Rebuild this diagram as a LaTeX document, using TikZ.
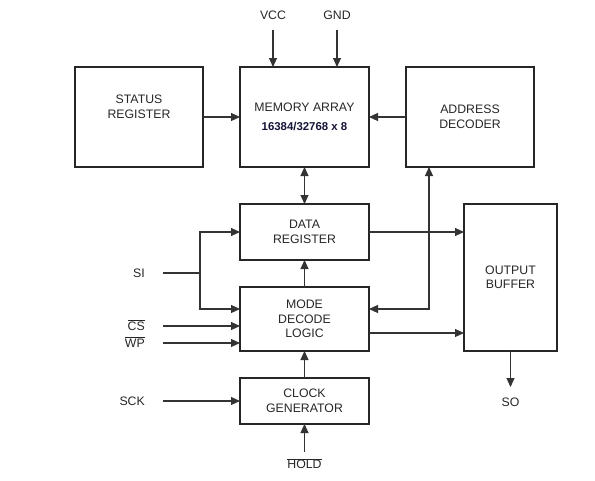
\documentclass[tikz,border=0pt]{standalone}
\usepackage{fontspec}
\usepackage{xcolor}
\usetikzlibrary{arrows.meta,positioning}
\newfontfamily\blockfont{Liberation Sans}
\definecolor{numblue}{RGB}{20,20,55}
\newcommand\lowact[1]{\vphantom{#1}\smash{$\overline{\mbox{#1}}$}}

\begin{document}
\begin{tikzpicture}[
    x=1pt, y=-1pt,
    >={Triangle[length=9pt,width=8pt]},
    box/.style={draw=black!85, line width=1.1pt, align=center, outer sep=0pt, text=black!85, font=\blockfont\fontsize{12.3}{14.5}\selectfont},
    sig/.style={inner sep=0pt, text=black!85, font=\blockfont\fontsize{12.3}{14.5}\selectfont},
    wire/.style={line width=1.1pt, draw=black!80},
    arrow/.style={->, wire}
]
\useasboundingbox (0,0) rectangle (595,480);

\node[box, minimum width=129pt, minimum height=100pt] (mem) at (304.5,117) {MEMORY ARRAY\\[4pt]{\bfseries\fontsize{11.4}{12}\selectfont\color{numblue}16384/32768 x 8}};
\node[box, minimum width=128pt, minimum height=100pt, left=37pt of mem] (status) {STATUS\\REGISTER\\[6pt]};
\node[box, minimum width=128pt, minimum height=100pt, right=37pt of mem] (dec) {ADDRESS\\DECODER};
\node[box, minimum width=129pt, minimum height=56pt, below=37pt of mem] (data) {DATA\\REGISTER};
\node[box, minimum width=129pt, minimum height=64pt, below=27pt of data] (mode) {MODE\\DECODE\\LOGIC};
\node[box, minimum width=129pt, minimum height=46pt, below=27pt of mode] (clk) {CLOCK\\GENERATOR};
\node[box, minimum width=93pt, minimum height=147pt, anchor=north west] (obuf) at ([xshift=95pt]data.north east) {OUTPUT\\BUFFER};

\node[sig, anchor=south, inner ysep=10pt] (vcc) at (273,30) {VCC};
\node[sig, anchor=south, inner ysep=10pt] (gnd) at (337,30) {GND};
\node[sig, anchor=east, inner xsep=18pt] (si) at (163,273) {SI};
\node[sig, anchor=east, inner xsep=18pt] (cs) at (163,326) {\lowact{CS}};
\node[sig, anchor=east, inner xsep=18pt] (wp) at (163,343) {\lowact{WP}};
\node[sig, anchor=east, inner xsep=18pt] (sck) at (163,401) {SCK};
\node[sig, anchor=north, inner ysep=8pt] (hold) at (304.5,452) {\lowact{HOLD}};
\node[sig, anchor=north, inner ysep=11pt] (so) at (510.5,387) {SO};
\coordinate (sibr) at (200,273);

\draw[arrow] (vcc.south) -- (vcc.south |- mem.north);
\draw[arrow] (gnd.south) -- (gnd.south |- mem.north);
\draw[arrow] (status) -- (mem);
\draw[arrow] (dec) -- (mem);
\draw[<->, wire] (mem) -- (data);
\draw[arrow] (mode) -- (data);
\draw[arrow] (clk) -- (mode);
\draw[arrow] (hold) -- (clk);
\draw[wire] (si.east) -- (sibr);
\draw[arrow] (sibr) |- (data.west);
\draw[arrow] (sibr) |- ([yshift=10pt]mode.west);
\draw[arrow] (cs.east) -- (cs.east -| mode.west);
\draw[arrow] (wp.east) -- (wp.east -| mode.west);
\draw[arrow] (sck) -- (clk);
\draw[arrow] (data.east) -- (data.east -| obuf.west);
\draw[arrow] ([yshift=-14pt]mode.east) -- ([yshift=-14pt]mode.east -| obuf.west);
\draw[<->, wire] ([yshift=10pt]mode.east) -| ([xshift=-41pt]dec.south);
\draw[arrow] (obuf) -- (so);
\end{tikzpicture}
\end{document}
